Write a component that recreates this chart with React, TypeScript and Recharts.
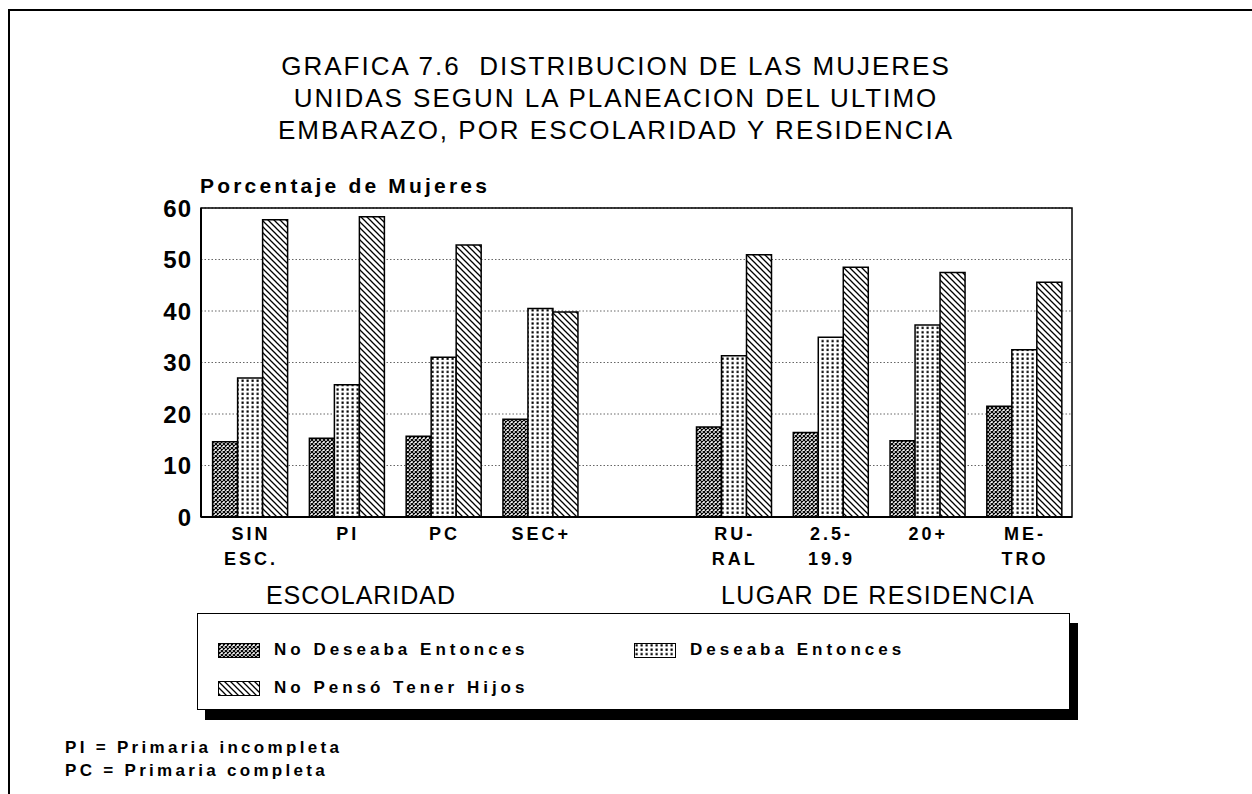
import { BarChart, Bar, XAxis, YAxis, CartesianGrid, ReferenceArea } from 'recharts';

// categories on the x axis (the blank one is the gap between the two groups)
const categories = ['SIN\nESC.', 'PI', 'PC', 'SEC+', '', 'RU-\nRAL', '2.5-\n19.9', '20+', 'ME-\nTRO'];

// percentages
const noDeseaba = [14.6, 15.3, 15.7, 19.0, null, 17.5, 16.4, 14.8, 21.5];
const deseaba = [27.0, 25.7, 31.0, 40.5, null, 31.3, 34.9, 37.3, 32.5];
const noPenso = [57.7, 58.3, 52.8, 39.8, null, 50.9, 48.5, 47.5, 45.6];

const yTicks = [0, 10, 20, 30, 40, 50, 60];

const series = [
    { key: 'noDeseaba', name: 'No Deseaba Entonces', fill: 'url(#pCross)' },
    { key: 'deseaba', name: 'Deseaba Entonces', fill: 'url(#pDots)' },
    { key: 'noPenso', name: 'No Pensó Tener Hijos', fill: 'url(#pDiag)' },
];

const data = categories.map((cat, i) => ({
    cat,
    noDeseaba: noDeseaba[i],
    deseaba: deseaba[i],
    noPenso: noPenso[i],
}));

const font = '"Liberation Sans", Arial, Helvetica, sans-serif';

const Patterns = () => (
    <svg width={0} height={0} style={{ position: 'absolute' }}>
        <defs>
            <pattern id="pCross" width={4} height={4} patternUnits="userSpaceOnUse">
                <rect width={4} height={4} fill="#fff" />
                <path d="M0,0 L4,4 M4,0 L0,4" stroke="#000" strokeWidth={1.2} />
            </pattern>
            <pattern id="pDots" width={5} height={4.4} patternUnits="userSpaceOnUse">
                <rect width={5} height={4.4} fill="#fff" />
                <rect x={1.5} y={1.2} width={2.2} height={2.2} fill="#000" />
            </pattern>
            <pattern id="pDiag" width={6} height={6} patternUnits="userSpaceOnUse">
                <rect width={6} height={6} fill="#fff" />
                <path d="M0,0 L6,6 M-1,5 L1,7 M5,-1 L7,1" stroke="#000" strokeWidth={1.3} />
            </pattern>
        </defs>
    </svg>
);

const CatTick = ({ x, y, payload }: any) => {
    const lines = String(payload.value).split('\n');
    return (
        <text x={x + 1.5} y={y} textAnchor="middle" fontFamily={font} fontWeight="bold"
            fontSize={18} letterSpacing={3} fill="#000">
            {lines.map((l, i) => (
                <tspan key={i} x={x + 1.5} dy={i === 0 ? 23 : 25}>{l}</tspan>
            ))}
        </text>
    );
};

const App = () => {
    return (
        <div style={{ position: 'absolute', left: 0, top: 0, width: 1252, height: 794, background: '#fff', fontFamily: font, overflow: 'hidden' }}>
            <Patterns />

            {/* page frame */}
            <div style={{ position: 'absolute', left: 8, top: 9, width: 1260, height: 800, borderTop: '2px solid #000', borderLeft: '2px solid #000' }} />

            {/* Title */}
            <div style={{ position: 'absolute', left: 0, top: 50, width: 1232, textAlign: 'center', fontSize: 26, lineHeight: '32px', letterSpacing: 2, color: '#000' }}>
                GRAFICA 7.6&nbsp; DISTRIBUCION DE LAS MUJERES<br />
                UNIDAS SEGUN LA PLANEACION DEL ULTIMO<br />
                EMBARAZO, POR ESCOLARIDAD Y RESIDENCIA
            </div>

            <div style={{ position: 'absolute', left: 200, top: 173, fontSize: 21, fontWeight: 'bold', letterSpacing: 3.2, lineHeight: '26px' }}>
                Porcentaje de Mujeres
            </div>

            <BarChart width={1252} height={794} data={data}
                margin={{ top: 208, right: 180, bottom: 217, left: 161 }}
                barGap={0} barCategoryGap="12%">
                <CartesianGrid vertical={false} stroke="#666" strokeDasharray="1.5 2" />
                <XAxis dataKey="cat" interval={0} height={60} tickLine={false} tickSize={0} tickMargin={0}
                    axisLine={{ stroke: '#000', strokeWidth: 2 }} tick={<CatTick />} />
                <YAxis type="number" domain={[0, 60]} ticks={yTicks} width={40} tickLine={false} tickSize={0} tickMargin={9}
                    axisLine={{ stroke: '#000', strokeWidth: 2 }}
                    tick={{ fill: '#000', fontSize: 24, fontWeight: 'bold', fontFamily: font, letterSpacing: 1 }} />
                <ReferenceArea y1={0} y2={60} fill="none" stroke="#000" strokeWidth={1.5} ifOverflow="visible" />
                {series.map((s) => (
                    <Bar key={s.key} dataKey={s.key} name={s.name} fill={s.fill} stroke="#000" strokeWidth={1.5}
                        isAnimationActive={false} />
                ))}
            </BarChart>

            {/* group captions */}
            <div style={{ position: 'absolute', left: 261, top: 580, width: 200, textAlign: 'center', fontSize: 25, letterSpacing: 1, lineHeight: '30px' }}>
                ESCOLARIDAD
            </div>
            <div style={{ position: 'absolute', left: 718, top: 580, width: 320, textAlign: 'center', fontSize: 25, letterSpacing: 1.4, lineHeight: '30px' }}>
                LUGAR DE RESIDENCIA
            </div>

            {/* legend */}
            <div style={{ position: 'absolute', left: 197, top: 613, width: 873, height: 97, boxSizing: 'border-box', border: '1.5px solid #000', boxShadow: '8px 10px 0 0 #000', background: '#fff' }}>
                {series.map((s, i) => (
                    <div key={s.key} style={{ position: 'absolute', left: i === 1 ? 436 : 20, top: i === 2 ? 64 : 26, display: 'flex', alignItems: 'center', fontSize: 17, fontWeight: 'bold', letterSpacing: 4 }}>
                        <svg width={42} height={15} style={{ marginRight: 14 }}>
                            <rect x={0.5} y={0.5} width={41} height={14} fill={s.fill} stroke="#000" strokeWidth={1} />
                        </svg>
                        {s.name}
                    </div>
                ))}
            </div>

            {/* notes */}
            <div style={{ position: 'absolute', left: 65, top: 736, fontSize: 17, fontWeight: 'bold', letterSpacing: 3.3, lineHeight: '23px' }}>
                PI = Primaria incompleta<br />
                PC = Primaria completa
            </div>
        </div>
    );
};

export default App;
